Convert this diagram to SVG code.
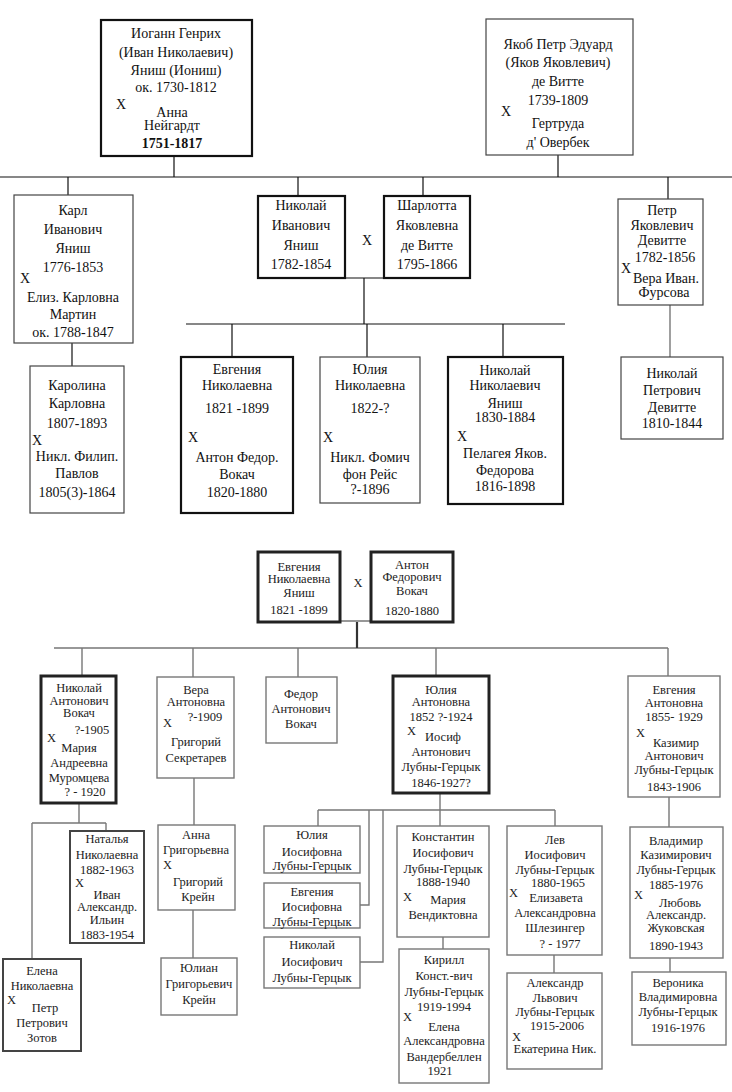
<svg xmlns="http://www.w3.org/2000/svg" width="732" height="1092" viewBox="0 0 732 1092">
<style>
.bk{fill:#fff;stroke:#111;stroke-width:2.2}
.bk3{fill:#fff;stroke:#222;stroke-width:3}
.bm{fill:#fff;stroke:#444;stroke-width:2}
.bt{fill:#fff;stroke:#444;stroke-width:1.2}
.bg{fill:#fff;stroke:#777;stroke-width:1.4}
.ln{stroke:#111;stroke-width:1.2;fill:none}
.lg{stroke:#777;stroke-width:1.4;fill:none}
.lt{stroke:#333;stroke-width:2.2;fill:none}
text{font-family:"Liberation Serif","Times New Roman",serif;fill:#111}
.t text,text.c{font-size:14px;text-anchor:middle}
.s text{font-size:12.5px;text-anchor:middle;fill:#222}
text.x{text-anchor:start}
</style>
<rect width="732" height="1092" fill="#fff"/>
<g id="connectors">
<path class="ln" d="M174 156V177M558 155V177M0 177H732M68 177V195M298 177V196M423 177V196M668 177V199"/>
<path class="ln" d="M345 278H384M364 278V324M186 324H565M232 324V357M367 324V357M503 324V357"/>
<path class="ln" d="M72 343V366"/>
<path class="lg" d="M670 305V357"/>
<path class="lg" d="M340 621H371M54 648H668M82 648V676M193 648V677M298 648V677M436 648V676M668 648V676"/>
<path class="lt" d="M357 622V648"/>
<path class="lg" d="M79 803V823M32 823H106M106 823V831M32 823V959M194 778V825M193 910V958"/>
<path class="lg" d="M440 793V810M318 810H555M318 810V826M360 905H369V810M360 962H383V810M440 810V826M443 937V949M555 810V826M554 955V973M669 797V827M670 958V972"/>
</g>
<g id="n1" class="t"><rect class="bk" x="101" y="20" width="151" height="136"/>
<text x="176" y="38">Иоганн Генрих</text><text x="176" y="57">(Иван Николаевич)</text><text x="176" y="75">Яниш (Иониш)</text><text x="176" y="92">ок. 1730-1812</text><text class="x" x="116" y="109">X</text><text x="172" y="117">Анна</text><text x="172" y="130">Нейгардт</text><text x="172" y="148" font-weight="bold">1751-1817</text></g>
<g id="n2" class="t"><rect class="bt" x="486" y="19" width="147" height="136"/>
<text x="558" y="49">Якоб Петр Эдуард</text><text x="558" y="67">(Яков Яковлевич)</text><text x="558" y="86">де Витте</text><text x="558" y="105">1739-1809</text><text class="x" x="501" y="116">X</text><text x="558" y="128">Гертруда</text><text x="558" y="147">д' Овербек</text></g>
<g id="n3" class="t"><rect class="bt" x="14" y="195" width="119" height="148"/>
<text x="73" y="215">Карл</text><text x="73" y="234">Иванович</text><text x="73" y="253">Яниш</text><text x="73" y="272">1776-1853</text><text class="x" x="20" y="283">X</text><text x="73" y="302">Елиз. Карловна</text><text x="73" y="319">Мартин</text><text x="73" y="337">ок. 1788-1847</text></g>
<g id="n4" class="t"><rect class="bk" x="258" y="196" width="87" height="82"/>
<text x="301" y="210">Николай</text><text x="301" y="230">Иванович</text><text x="301" y="250">Яниш</text><text x="301" y="269">1782-1854</text></g>
<g id="m1" class="t"><text x="367" y="245">X</text></g>
<g id="n5" class="t"><rect class="bk" x="384" y="196" width="86" height="82"/>
<text x="427" y="210">Шарлотта</text><text x="427" y="230">Яковлевна</text><text x="427" y="250">де Витте</text><text x="427" y="269">1795-1866</text></g>
<g id="n6" class="t"><rect class="bt" x="618" y="199" width="85" height="106"/>
<text x="662" y="215">Петр</text><text x="662" y="230">Яковлевич</text><text x="662" y="245">Девитте</text><text x="665" y="262">1782-1856</text><text class="x" x="621" y="273">X</text><text x="666" y="283">Вера Иван.</text><text x="664" y="297">Фурсова</text></g>
<g id="n7" class="t"><rect class="bt" x="30" y="366" width="94" height="147"/>
<text x="77" y="390">Каролина</text><text x="77" y="408">Карловна</text><text x="77" y="428">1807-1893</text><text class="x" x="32" y="445">X</text><text x="77" y="461">Никл. Филип.</text><text x="77" y="478">Павлов</text><text x="77" y="497">1805(3)-1864</text></g>
<g id="n8" class="t"><rect class="bk" x="181" y="357" width="112" height="156"/>
<text x="237" y="374">Евгения</text><text x="237" y="390">Николаевна</text><text x="237" y="413">1821 -1899</text><text class="x" x="188" y="442">X</text><text x="237" y="462">Антон Федор.</text><text x="237" y="479">Вокач</text><text x="237" y="497">1820-1880</text></g>
<g id="n9" class="t"><rect class="bt" x="320" y="357" width="100" height="146"/>
<text x="370" y="374">Юлия</text><text x="370" y="390">Николаевна</text><text x="370" y="413">1822-?</text><text class="x" x="323" y="442">X</text><text x="370" y="462">Никл. Фомич</text><text x="370" y="479">фон Рейс</text><text x="370" y="494">?-1896</text></g>
<g id="n10" class="t"><rect class="bk" x="448" y="357" width="115" height="147"/>
<text x="505" y="375">Николай</text><text x="505" y="390">Николаевич</text><text x="505" y="408">Яниш</text><text x="505" y="422">1830-1884</text><text class="x" x="457" y="441">X</text><text x="505" y="458">Пелагея Яков.</text><text x="505" y="475">Федорова</text><text x="505" y="491">1816-1898</text></g>
<g id="n11" class="t"><rect class="bt" x="621" y="357" width="102" height="82"/>
<text x="672" y="378">Николай</text><text x="672" y="395">Петрович</text><text x="672" y="412">Девитте</text><text x="672" y="428">1810-1844</text></g>
<g id="n12" class="s"><rect class="bk3" x="258" y="552" width="82" height="70"/>
<text x="299" y="571">Евгения</text><text x="299" y="583">Николаевна</text><text x="299" y="597">Яниш</text><text x="299" y="614">1821 -1899</text></g>
<g id="m2" class="s"><text x="358" y="587">X</text></g>
<g id="n13" class="s"><rect class="bk3" x="371" y="552" width="82" height="70"/>
<text x="412" y="569">Антон</text><text x="412" y="581">Федорович</text><text x="412" y="595">Вокач</text><text x="412" y="615">1820-1880</text></g>
<g id="n14" class="s"><rect class="bk3" x="41" y="676" width="75" height="127"/>
<text x="79" y="692">Николай</text><text x="79" y="705">Антонович</text><text x="79" y="717">Вокач</text><text x="92" y="734">?-1905</text><text class="x" x="47" y="742">X</text><text x="79" y="752">Мария</text><text x="79" y="767">Андреевна</text><text x="79" y="782">Муромцева</text><text x="85" y="796">? - 1920</text></g>
<g id="n15" class="s"><rect class="bg" x="157" y="677" width="77" height="101"/>
<text x="196" y="694">Вера</text><text x="196" y="706">Антоновна</text><text x="205" y="721">?-1909</text><text class="x" x="163" y="727">X</text><text x="196" y="746">Григорий</text><text x="196" y="762">Секретарев</text></g>
<g id="n16" class="s"><rect class="bg" x="266" y="677" width="71" height="66"/>
<text x="301" y="698">Федор</text><text x="301" y="713">Антонович</text><text x="301" y="728">Вокач</text></g>
<g id="n17" class="s"><rect class="bk3" x="393" y="676" width="96" height="117"/>
<text x="441" y="694">Юлия</text><text x="441" y="706">Антоновна</text><text x="441" y="721">1852 ?-1924</text><text class="x" x="407" y="735">X</text><text x="443" y="741">Иосиф</text><text x="441" y="756">Антонович</text><text x="441" y="771">Лубны-Герцык</text><text x="441" y="787">1846-1927?</text></g>
<g id="n18" class="s"><rect class="bg" x="628" y="676" width="92" height="121"/>
<text x="674" y="694">Евгения</text><text x="674" y="707">Антоновна</text><text x="674" y="721">1855- 1929</text><text class="x" x="636" y="737">X</text><text x="676" y="747">Казимир</text><text x="674" y="760">Антонович</text><text x="674" y="774">Лубны-Герцык</text><text x="674" y="791">1843-1906</text></g>
<g id="n19" class="s"><rect class="bm" x="70" y="831" width="74" height="112"/>
<text x="107" y="843">Наталья</text><text x="107" y="859">Николаевна</text><text x="107" y="874">1882-1963</text><text class="x" x="75" y="887">X</text><text x="107" y="899">Иван</text><text x="107" y="911">Александр.</text><text x="107" y="924">Ильин</text><text x="107" y="939">1883-1954</text></g>
<g id="n20" class="s"><rect class="bm" x="3" y="959" width="78" height="92"/>
<text x="42" y="975">Елена</text><text x="42" y="990">Николаевна</text><text class="x" x="7" y="1004">X</text><text x="45" y="1012">Петр</text><text x="42" y="1027">Петрович</text><text x="42" y="1042">Зотов</text></g>
<g id="n21" class="s"><rect class="bg" x="158" y="825" width="77" height="85"/>
<text x="196" y="839">Анна</text><text x="196" y="854">Григорьевна</text><text class="x" x="163" y="869">X</text><text x="198" y="886">Григорий</text><text x="198" y="901">Крейн</text></g>
<g id="n22" class="s"><rect class="bg" x="161" y="958" width="76" height="57"/>
<text x="199" y="972">Юлиан</text><text x="199" y="988">Григорьевич</text><text x="199" y="1004">Крейн</text></g>
<g id="n23" class="s"><rect class="bg" x="264" y="826" width="96" height="47"/>
<text x="312" y="839">Юлия</text><text x="312" y="856">Иосифовна</text><text x="312" y="870">Лубны-Герцык</text></g>
<g id="n24" class="s"><rect class="bg" x="264" y="883" width="96" height="45"/>
<text x="312" y="896">Евгения</text><text x="312" y="911">Иосифовна</text><text x="312" y="926">Лубны-Герцык</text></g>
<g id="n25" class="s"><rect class="bg" x="264" y="937" width="96" height="51"/>
<text x="312" y="949">Николай</text><text x="312" y="966">Иосифович</text><text x="312" y="982">Лубны-Герцык</text></g>
<g id="n26" class="s"><rect class="bg" x="397" y="826" width="92" height="111"/>
<text x="443" y="841">Константин</text><text x="443" y="857">Иосифович</text><text x="443" y="873">Лубны-Герцык</text><text x="443" y="886">1888-1940</text><text class="x" x="403" y="901">X</text><text x="448" y="904">Мария</text><text x="443" y="919">Вендиктовна</text></g>
<g id="n27" class="s"><rect class="bg" x="399" y="949" width="90" height="134"/>
<text x="444" y="964">Кирилл</text><text x="444" y="980">Конст.-вич</text><text x="444" y="996">Лубны-Герцык</text><text x="444" y="1011">1919-1994</text><text class="x" x="403" y="1021">X</text><text x="444" y="1031">Елена</text><text x="444" y="1045">Александровна</text><text x="444" y="1061">Вандербеллен</text><text x="440" y="1075">1921</text></g>
<g id="n28" class="s"><rect class="bg" x="507" y="826" width="95" height="129"/>
<text x="555" y="844">Лев</text><text x="555" y="859">Иосифович</text><text x="555" y="874">Лубны-Герцык</text><text x="558" y="887">1880-1965</text><text class="x" x="509" y="897">X</text><text x="556" y="902">Елизавета</text><text x="555" y="917">Александровна</text><text x="555" y="932">Шлезингер</text><text x="560" y="948">? - 1977</text></g>
<g id="n29" class="s"><rect class="bg" x="507" y="973" width="95" height="96"/>
<text x="555" y="987">Александр</text><text x="555" y="1002">Львович</text><text x="555" y="1016">Лубны-Герцык</text><text x="557" y="1030">1915-2006</text><text class="x" x="512" y="1041">X</text><text x="555" y="1053">Екатерина Ник.</text></g>
<g id="n30" class="s"><rect class="bg" x="630" y="827" width="93" height="131"/>
<text x="676" y="845">Владимир</text><text x="676" y="859">Казимирович</text><text x="676" y="874">Лубны-Герцык</text><text x="676" y="889">1885-1976</text><text class="x" x="634" y="899">X</text><text x="680" y="907">Любовь</text><text x="676" y="919">Александр.</text><text x="676" y="932">Жуковская</text><text x="676" y="950">1890-1943</text></g>
<g id="n31" class="s"><rect class="bg" x="632" y="972" width="94" height="73"/>
<text x="678" y="987">Вероника</text><text x="678" y="1001">Владимировна</text><text x="678" y="1016">Лубны-Герцык</text><text x="678" y="1032">1916-1976</text></g>
</svg>
